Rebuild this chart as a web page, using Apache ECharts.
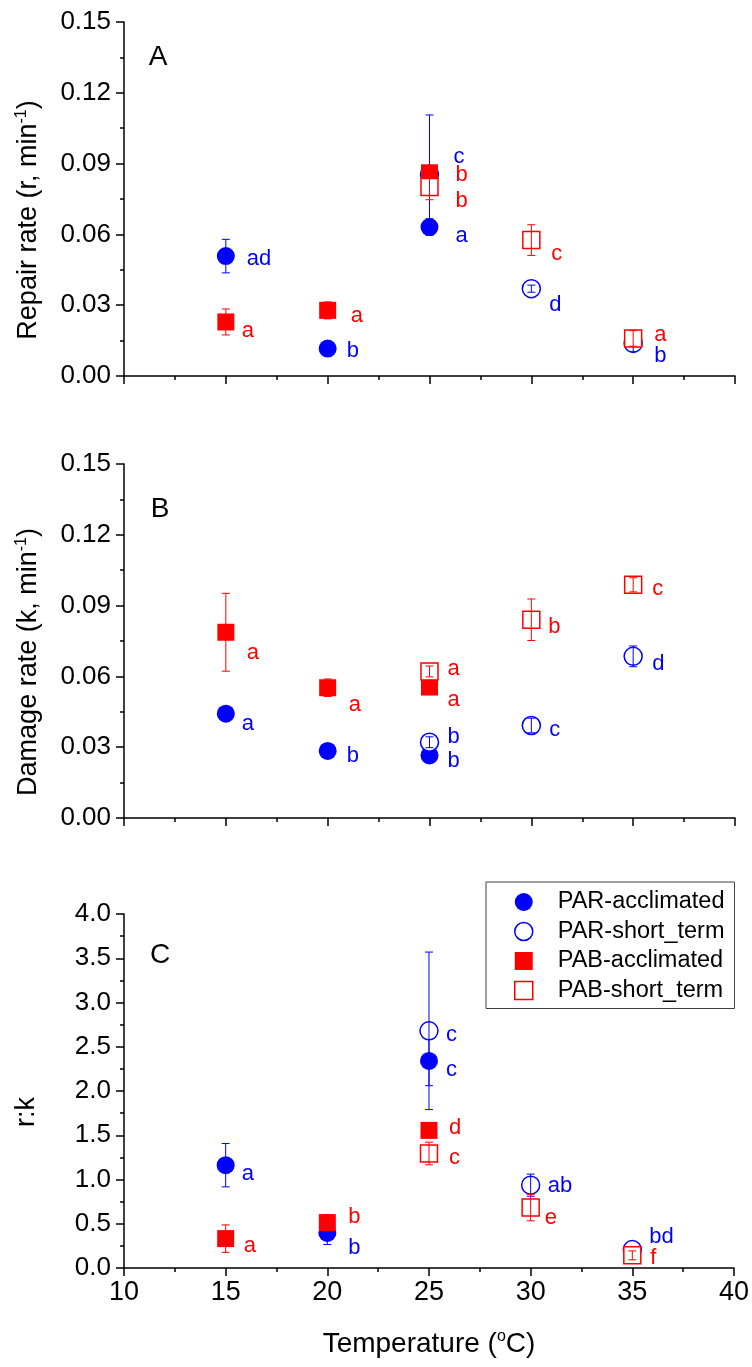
<!DOCTYPE html>
<html>
<head>
<meta charset="utf-8">
<script src="https://cdn.jsdelivr.net/npm/echarts@6/dist/echarts.min.js"></script>
<style>
html,body{margin:0;padding:0;background:#fff;}
#chart{width:752px;height:1367px;}
</style>
</head>
<body>
<div id="chart"></div>
<script>
// ---------------- DATA ----------------
const seriesNames = ['PAR-acclimated', 'PAR-short_term', 'PAB-acclimated', 'PAB-short_term'];
const acclimatedTemps = [15, 20, 25];
const shortTermTemps = [25, 30, 35];
const xTickValues = [10, 15, 20, 25, 30, 35, 40];
const panelLetters = ['A', 'B', 'C'];

// Panel A: repair rate r (min^-1)
const repairPARacc = [0.0508, 0.0116, 0.0631];
const repairPARaccErr = [0.0071, 0.0010, 0.0035];
const repairPARaccLetters = ['ad', 'b', 'a'];
const repairPARst = [0.0855, 0.0370, 0.0138];
const repairPARstErr = [0.0251, 0.0015, 0.0035];
const repairPARstLetters = ['c', 'd', 'b'];
const repairPABacc = [0.0229, 0.0278, 0.0861];
const repairPABaccErr = [0.0055, 0.0036, 0.0020];
const repairPABaccLetters = ['a', 'a', 'b'];
const repairPABst = [0.0801, 0.0576, 0.0159];
const repairPABstErr = [0.0054, 0.0065, 0.0033];
const repairPABstLetters = ['b', 'c', 'a'];

// Panel B: damage rate k (min^-1)
const damagePARacc = [0.0442, 0.0284, 0.0265];
const damagePARaccErr = [0.0012, 0.0012, 0.0015];
const damagePARaccLetters = ['a', 'b', 'b'];
const damagePARst = [0.0321, 0.0392, 0.0685];
const damagePARstErr = [0.0023, 0.0031, 0.0044];
const damagePARstLetters = ['b', 'c', 'd'];
const damagePABacc = [0.0787, 0.0552, 0.0555];
const damagePABaccErr = [0.0165, 0.0037, 0.0020];
const damagePABaccLetters = ['a', 'a', 'a'];
const damagePABst = [0.0621, 0.0840, 0.0988];
const damagePABstErr = [0.0023, 0.0088, 0.0030];
const damagePABstLetters = ['a', 'b', 'c'];

// Panel C: r:k ratio
const ratioPARacc = [1.162, 0.396, 2.340];
const ratioPARaccErr = [0.245, 0.130, 0.280];
const ratioPARaccLetters = ['a', 'b', 'c'];
const ratioPARst = [2.680, 0.936, 0.208];
const ratioPARstErr = [0.890, 0.125, 0.030];
const ratioPARstLetters = ['c', 'ab', 'bd'];
const ratioPABacc = [0.332, 0.513, 1.555];
const ratioPABaccErr = [0.155, 0.090, 0.080];
const ratioPABaccLetters = ['a', 'b', 'd'];
const ratioPABst = [1.294, 0.683, 0.143];
const ratioPABstErr = [0.128, 0.150, 0.050];
const ratioPABstLetters = ['c', 'e', 'f'];

// ---------------- STYLE ----------------
const FONT = '"Liberation Sans", Arial, Helvetica, sans-serif';
const BLUE = '#0000ff';
const RED = '#ff0000';

// label nudges [dx from marker centre to label left, dy] per panel / series / point
const labelNudges = [
  [ [[21,3],[19,2],[26,9]], [[24,-17],[18,16],[21,13]], [[16,9],[23,6],[26,2]], [[26,14],[20,14],[21,-4]] ],
  [ [[16,10],[19,5],[18,5]], [[18,-5],[18,4],[19,8]], [[21,21],[21,17],[18,13]], [[18,-3],[17,7],[19,4]] ],
  [ [[16,9],[21,15],[17,9]], [[17,4],[17,1],[17,-13]], [[18,7],[21,-6],[20,-2]], [[20,4],[14,10],[18,3]] ]
];

const seriesStyles = [
  { symbol: 'circle', size: 18, color: BLUE, fill: BLUE },
  { symbol: 'circle', size: 18, color: BLUE, fill: '#fff' },
  { symbol: 'rect', size: 17, color: RED, fill: RED },
  { symbol: 'rect', size: 17, color: RED, fill: '#fff' }
];

const panels = [
  { x: [acclimatedTemps, shortTermTemps, acclimatedTemps, shortTermTemps],
    y: [repairPARacc, repairPARst, repairPABacc, repairPABst],
    e: [repairPARaccErr, repairPARstErr, repairPABaccErr, repairPABstErr],
    l: [repairPARaccLetters, repairPARstLetters, repairPABaccLetters, repairPABstLetters],
    max: 0.15, interval: 0.03, digits: 2 },
  { x: [acclimatedTemps, shortTermTemps, acclimatedTemps, shortTermTemps],
    y: [damagePARacc, damagePARst, damagePABacc, damagePABst],
    e: [damagePARaccErr, damagePARstErr, damagePABaccErr, damagePABstErr],
    l: [damagePARaccLetters, damagePARstLetters, damagePABaccLetters, damagePABstLetters],
    max: 0.15, interval: 0.03, digits: 2 },
  { x: [acclimatedTemps, shortTermTemps, acclimatedTemps, shortTermTemps],
    y: [ratioPARacc, ratioPARst, ratioPABacc, ratioPABst],
    e: [ratioPARaccErr, ratioPARstErr, ratioPABaccErr, ratioPABstErr],
    l: [ratioPARaccLetters, ratioPARstLetters, ratioPABaccLetters, ratioPABstLetters],
    max: 4.0, interval: 0.5, digits: 1 }
];

const gridTops = [22, 464, 914];
const GRID_LEFT = 124, GRID_W = 611, GRID_H = 354;

const grids = [], xAxes = [], yAxes = [], series = [];

panels.forEach((p, gi) => {
  grids.push({ left: GRID_LEFT, top: gridTops[gi], width: GRID_W, height: GRID_H });
  const last = gi === panels.length - 1;
  xAxes.push({
    type: 'value', gridIndex: gi, min: xTickValues[0], max: xTickValues[xTickValues.length - 1], interval: 5,
    axisLine: { show: true, onZero: false, lineStyle: { color: '#000', width: 1.5 } },
    axisTick: { show: true, inside: false, length: 8, lineStyle: { color: '#000', width: 1.5 } },
    minorTick: { show: true, splitNumber: 2, length: 4, lineStyle: { color: '#000', width: 1.5 } },
    splitLine: { show: false }, minorSplitLine: { show: false },
    axisLabel: { show: last, fontSize: 27, fontFamily: FONT, color: '#000', margin: 11 },
    name: last ? 'Temperature ({sup|o}C)' : '',
    nameLocation: 'middle', nameGap: 61,
    nameTextStyle: {
      fontSize: 28, fontFamily: FONT, color: '#000', lineHeight: 30,
      rich: { sup: { fontSize: 16, fontFamily: FONT, color: '#000', verticalAlign: 'top', lineHeight: 17 } }
    }
  });
  yAxes.push({
    type: 'value', gridIndex: gi, min: 0, max: p.max, interval: p.interval,
    axisLine: { show: true, onZero: false, lineStyle: { color: '#000', width: 1.5 } },
    axisTick: { show: true, inside: false, length: 8, lineStyle: { color: '#000', width: 1.5 } },
    minorTick: { show: true, splitNumber: 2, length: 4, lineStyle: { color: '#000', width: 1.5 } },
    splitLine: { show: false }, minorSplitLine: { show: false },
    axisLabel: { fontSize: 26, fontFamily: FONT, color: '#000', margin: 13,
      formatter: v => v.toFixed(p.digits) }
  });

  seriesNames.forEach((name, si) => {
    const st = seriesStyles[si];
    const z = 2 + si * 2;
    series.push({
      type: 'scatter', name, xAxisIndex: gi, yAxisIndex: gi, z,
      symbol: st.symbol, symbolSize: st.size,
      itemStyle: { color: st.fill, borderColor: st.color, borderWidth: st.fill === '#fff' ? 1.5 : 0, opacity: 1 },
      emphasis: { disabled: true }, silent: true,
      data: p.x[si].map((xv, i) => ({
        value: [xv, p.y[si][i]],
        label: {
          show: true, formatter: p.l[si][i], position: 'inside', align: 'left', verticalAlign: 'middle',
          offset: labelNudges[gi][si][i], color: st.color, fontSize: 22, fontFamily: FONT
        }
      }))
    });
    series.push({
      type: 'custom', name: name + ' error', xAxisIndex: gi, yAxisIndex: gi, z: z + 1, silent: true,
      data: p.x[si].map((xv, i) => [xv, p.y[si][i], p.e[si][i]]),
      encode: { x: 0, y: 1 },
      renderItem: (params, api) => {
        const xv = api.value(0), yv = api.value(1), ev = api.value(2);
        const lo = api.coord([xv, yv - ev]);
        const hi = api.coord([xv, yv + ev]);
        const w = 4;
        const style = { stroke: st.color, lineWidth: 1 };
        return {
          type: 'group',
          children: [
            { type: 'line', shape: { x1: lo[0], y1: lo[1], x2: hi[0], y2: hi[1] }, style },
            { type: 'line', shape: { x1: lo[0] - w, y1: lo[1], x2: lo[0] + w, y2: lo[1] }, style },
            { type: 'line', shape: { x1: hi[0] - w, y1: hi[1], x2: hi[0] + w, y2: hi[1] }, style }
          ]
        };
      }
    });
  });
});

const yTitleRich = { sup: { fontSize: 16, fontFamily: FONT, fill: '#000', verticalAlign: 'top', lineHeight: 17 } };
const yTitles = [
  { text: 'Repair rate (r, min{sup|-1})', x: 29, y: 220 },
  { text: 'Damage rate (k, min{sup|-1})', x: 29, y: 662 },
  { text: 'r:k', x: 27, y: 1112 }
];
const letterPos = [[158, 57], [160, 509], [160, 955]];

const graphics = [];
yTitles.forEach(t => {
  graphics.push({
    type: 'text', x: t.x, y: t.y, rotation: Math.PI / 2, silent: true,
    style: { text: t.text, font: '27px ' + FONT, fill: '#000', align: 'center', verticalAlign: 'middle',
      lineHeight: 30, rich: yTitleRich }
  });
});
panelLetters.forEach((L, i) => {
  graphics.push({
    type: 'text', x: letterPos[i][0], y: letterPos[i][1], silent: true,
    style: { text: L, font: '28px ' + FONT, fill: '#000', align: 'center', verticalAlign: 'middle' }
  });
});

const chart = echarts.init(document.getElementById('chart'), null, { renderer: 'canvas' });
chart.setOption({
  animation: false,
  backgroundColor: '#fff',
  grid: grids,
  xAxis: xAxes,
  yAxis: yAxes,
  legend: {
    orient: 'vertical', left: 486, top: 882,
    padding: [8, 10, 6, 28],
    itemWidth: 18, itemHeight: 18, itemGap: 5.5,
    borderColor: '#404040', borderWidth: 1,
    selectedMode: false,
    textStyle: { fontSize: 23.5, fontFamily: FONT, color: '#000', lineHeight: 23, padding: [0, 0, 0, 20] },
    data: seriesNames.map((n, i) => ({
      name: n,
      icon: seriesStyles[i].symbol,
      itemStyle: { color: seriesStyles[i].fill, borderColor: seriesStyles[i].color,
        borderWidth: seriesStyles[i].fill === '#fff' ? 1.5 : 0 }
    }))
  },
  graphic: graphics,
  series
});
</script>
</body>
</html>
